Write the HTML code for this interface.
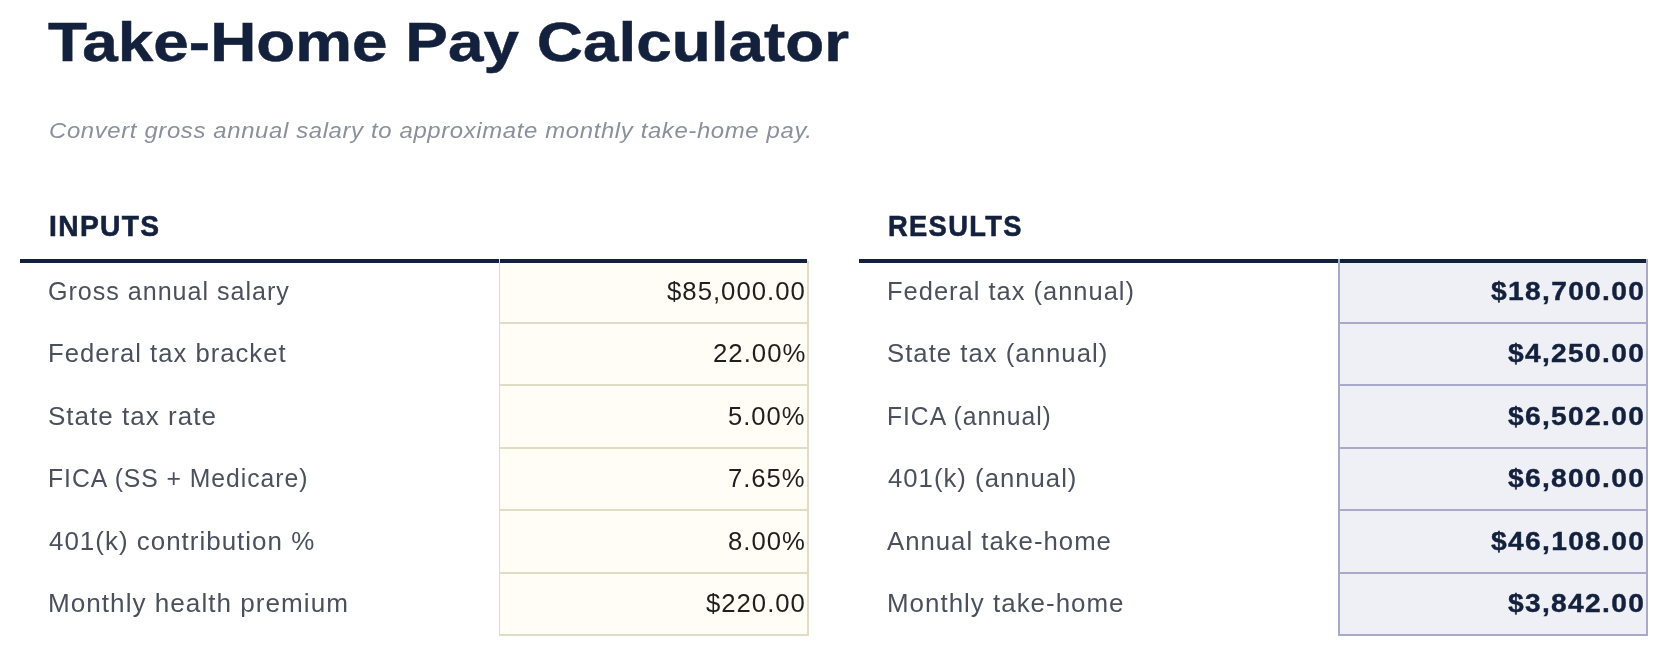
<!DOCTYPE html>
<html lang="en"><head><meta charset="utf-8"><title>Take-Home Pay Calculator</title>
<style>
html,body{margin:0;padding:0;background:#fff;}
body{width:1668px;height:656px;position:relative;overflow:hidden;font-family:"Liberation Sans",sans-serif;}
.t{position:absolute;white-space:nowrap;line-height:1;margin:0;padding:0;transform-origin:0 0;}
.title{font-weight:bold;color:#14213d;}
.sub{font-style:italic;color:#8b909c;}
.hd{font-weight:bold;color:#14213d;}
.lab{color:#4b505d;}
.iv{color:#1f1f1f;}
.rv{font-weight:bold;color:#14213d;}
#txt{position:absolute;left:0;top:0;width:1668px;height:656px;will-change:transform;}
.b{position:absolute;}
.ib{background:#e0ddc6;}
.rb{background:#a9aaca;}
.nv{background:#14213d;}
</style></head><body>
<!-- cell backgrounds -->
<div class="b" style="left:500px;top:261px;width:307px;height:373px;background:#fffdf5;"></div>
<div class="b" style="left:1340px;top:261px;width:306px;height:373px;background:#eef0f6;"></div>
<!-- row separators -->
<div class="b ib" style="left:499px;top:322px;width:310px;height:2px;"></div>
<div class="b rb" style="left:1338px;top:322px;width:310px;height:2px;"></div>
<div class="b ib" style="left:499px;top:384px;width:310px;height:2px;"></div>
<div class="b rb" style="left:1338px;top:384px;width:310px;height:2px;"></div>
<div class="b ib" style="left:499px;top:447px;width:310px;height:2px;"></div>
<div class="b rb" style="left:1338px;top:447px;width:310px;height:2px;"></div>
<div class="b ib" style="left:499px;top:509px;width:310px;height:2px;"></div>
<div class="b rb" style="left:1338px;top:509px;width:310px;height:2px;"></div>
<div class="b ib" style="left:499px;top:572px;width:310px;height:2px;"></div>
<div class="b rb" style="left:1338px;top:572px;width:310px;height:2px;"></div>
<div class="b ib" style="left:499px;top:634px;width:310px;height:2px;"></div>
<div class="b rb" style="left:1338px;top:634px;width:310px;height:2px;"></div>
<!-- vertical borders -->
<div class="b ib" style="left:499px;top:259px;width:1.3px;height:377px;"></div>
<div class="b ib" style="left:807px;top:261px;width:2px;height:375px;"></div>
<div class="b rb" style="left:1338px;top:259px;width:2px;height:377px;"></div>
<div class="b rb" style="left:1646px;top:259px;width:2px;height:377px;"></div>
<!-- heavy header rules -->
<div class="b nv" style="left:20px;top:259px;width:479px;height:4px;"></div>
<div class="b nv" style="left:500.3px;top:259px;width:306.7px;height:4px;"></div>
<div class="b nv" style="left:859px;top:259px;width:479px;height:4px;"></div>
<div class="b nv" style="left:1340px;top:259px;width:306px;height:4px;"></div>
<!-- text -->
<div id="txt">
<div class="t title" style="left:47.74px;top:13.65px;font-size:56.33px;transform:scaleX(1.1341);-webkit-text-stroke:0.5px currentColor;">Take-Home Pay Calculator</div>
<div class="t sub" style="left:49.28px;top:118.92px;font-size:22.88px;transform:scaleX(1.0455);letter-spacing:0.6px;">Convert gross annual salary to approximate monthly take-home pay.</div>
<div class="t hd" style="left:48.89px;top:211.82px;font-size:28.62px;transform:scaleX(0.9839);letter-spacing:1.4px;-webkit-text-stroke:0.6px currentColor;">INPUTS</div>
<div class="t hd" style="left:887.94px;top:211.82px;font-size:28.62px;transform:scaleX(0.9543);letter-spacing:1.4px;-webkit-text-stroke:0.6px currentColor;">RESULTS</div>
<div class="t lab" style="left:48.09px;top:278.95px;font-size:25.62px;transform:scaleX(0.9801);letter-spacing:1.0px;">Gross annual salary</div>
<div class="t iv" style="left:666.95px;top:278.86px;font-size:25.73px;transform:scaleX(1.0007);letter-spacing:1.0px;">$85,000.00</div>
<div class="t lab" style="left:48.39px;top:341.45px;font-size:25.62px;transform:scaleX(1.0014);letter-spacing:1.0px;">Federal tax bracket</div>
<div class="t iv" style="left:712.53px;top:341.36px;font-size:25.73px;transform:scaleX(1.0014);letter-spacing:1.0px;">22.00%</div>
<div class="t lab" style="left:48.42px;top:403.95px;font-size:25.62px;transform:scaleX(1.0156);letter-spacing:1.0px;">State tax rate</div>
<div class="t iv" style="left:728.38px;top:403.86px;font-size:25.73px;transform:scaleX(0.9945);letter-spacing:1.0px;">5.00%</div>
<div class="t lab" style="left:48.46px;top:466.45px;font-size:25.62px;transform:scaleX(0.9651);letter-spacing:1.0px;">FICA (SS + Medicare)</div>
<div class="t iv" style="left:728.25px;top:466.36px;font-size:25.73px;transform:scaleX(0.9963);letter-spacing:1.0px;">7.65%</div>
<div class="t lab" style="left:48.57px;top:528.95px;font-size:25.62px;transform:scaleX(1.0123);letter-spacing:1.0px;">401(k) contribution %</div>
<div class="t iv" style="left:728.13px;top:528.86px;font-size:25.73px;transform:scaleX(0.9978);letter-spacing:1.0px;">8.00%</div>
<div class="t lab" style="left:48.35px;top:591.45px;font-size:25.62px;transform:scaleX(1.0191);letter-spacing:1.0px;">Monthly health premium</div>
<div class="t iv" style="left:705.91px;top:591.36px;font-size:25.73px;transform:scaleX(0.9990);letter-spacing:1.0px;">$220.00</div>
<div class="t lab" style="left:887.40px;top:278.95px;font-size:25.62px;transform:scaleX(0.9951);letter-spacing:1.0px;">Federal tax (annual)</div>
<div class="t rv" style="left:1491.36px;top:278.86px;font-size:25.73px;transform:scaleX(1.0962);letter-spacing:1.2px;-webkit-text-stroke:0.4px currentColor;">$18,700.00</div>
<div class="t lab" style="left:887.43px;top:341.45px;font-size:25.62px;transform:scaleX(1.0050);letter-spacing:1.0px;">State tax (annual)</div>
<div class="t rv" style="left:1508.41px;top:341.36px;font-size:25.73px;transform:scaleX(1.0958);letter-spacing:1.2px;-webkit-text-stroke:0.4px currentColor;">$4,250.00</div>
<div class="t lab" style="left:887.46px;top:403.95px;font-size:25.62px;transform:scaleX(0.9636);letter-spacing:1.0px;">FICA (annual)</div>
<div class="t rv" style="left:1508.41px;top:403.86px;font-size:25.73px;transform:scaleX(1.0958);letter-spacing:1.2px;-webkit-text-stroke:0.4px currentColor;">$6,502.00</div>
<div class="t lab" style="left:887.58px;top:466.45px;font-size:25.62px;transform:scaleX(1.0041);letter-spacing:1.0px;">401(k) (annual)</div>
<div class="t rv" style="left:1508.41px;top:466.36px;font-size:25.73px;transform:scaleX(1.0958);letter-spacing:1.2px;-webkit-text-stroke:0.4px currentColor;">$6,800.00</div>
<div class="t lab" style="left:887.12px;top:528.95px;font-size:25.62px;transform:scaleX(1.0046);letter-spacing:1.0px;">Annual take-home</div>
<div class="t rv" style="left:1491.36px;top:528.86px;font-size:25.73px;transform:scaleX(1.0962);letter-spacing:1.2px;-webkit-text-stroke:0.4px currentColor;">$46,108.00</div>
<div class="t lab" style="left:887.37px;top:591.45px;font-size:25.62px;transform:scaleX(1.0117);letter-spacing:1.0px;">Monthly take-home</div>
<div class="t rv" style="left:1508.41px;top:591.36px;font-size:25.73px;transform:scaleX(1.0958);letter-spacing:1.2px;-webkit-text-stroke:0.4px currentColor;">$3,842.00</div>
</div>
</body></html>
